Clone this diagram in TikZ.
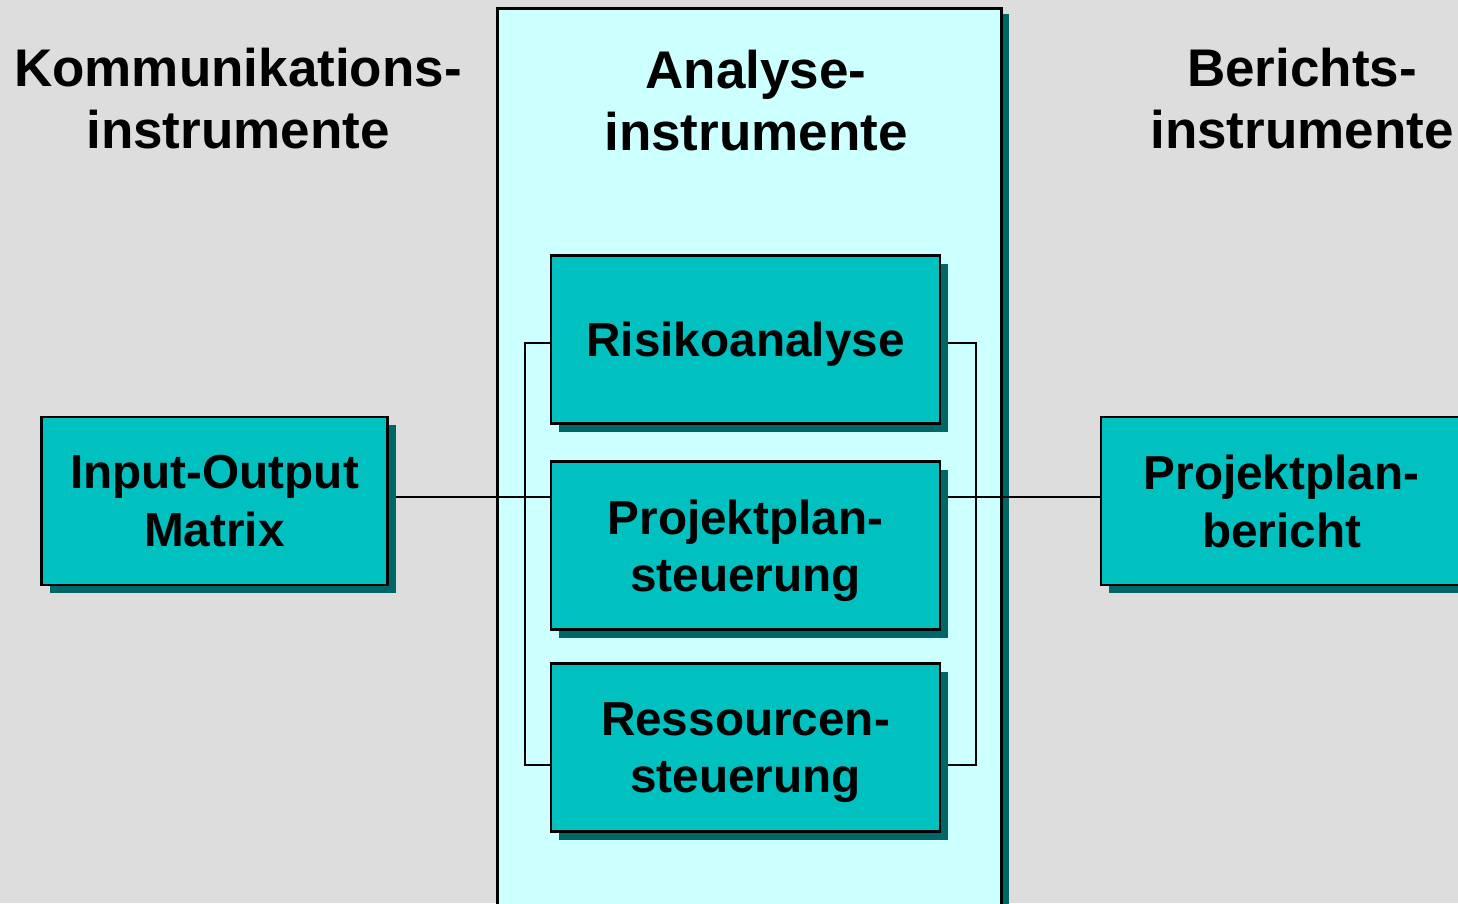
\documentclass[tikz,border=0pt]{standalone}
\usepackage{fontspec}
\setmainfont{Liberation Sans}
\usetikzlibrary{shadows}
\definecolor{bg}{HTML}{DDDDDD}
\definecolor{panelfill}{HTML}{CCFFFF}
\definecolor{boxfill}{HTML}{00C0C0}
\definecolor{darkteal}{HTML}{006666}
\pgfdeclarelayer{base}
\pgfdeclarelayer{wires}
\pgfsetlayers{base,wires,main}

\begin{document}
\begin{tikzpicture}[x=1pt,y=-1pt,
  tool/.style={draw=black, line width=2.2pt, fill=boxfill, rectangle, inner sep=0pt,
    minimum height=168pt, text depth=0pt, align=center,
    font=\fontsize{47.7}{57.5}\selectfont\bfseries,
    drop shadow={shadow xshift=8pt, shadow yshift=-8pt, fill=darkteal, opacity=1}},
  heading/.style={inner sep=0pt, text depth=0pt, align=center,
    font=\fontsize{53}{62}\selectfont\bfseries},
  link/.style={draw=black, line width=1.8pt}]
\clip (0,0) rectangle (1458,903);
\useasboundingbox (0,0) rectangle (1458,903);

\begin{pgfonlayer}{base}
  \fill[bg] (0,0) rectangle (1458,903);
  % central column for the analysis tools
  \fill[darkteal] (504,14) rectangle (1008.5,930);
  \draw[line width=2.8pt, fill=panelfill] (497.5,8.3) rectangle (1001.5,930);
\end{pgfonlayer}

% column headings
\node[heading] (hk) at (238,98.5) {Kommunikations-\\instrumente};
\node[heading] (ha) at (756,100) {Analyse-\\instrumente};
\node[heading] (hb) at (1302,98) {Berichts-\\instrumente};

% tool boxes
\node[tool, minimum width=346pt] (io) at (214.5,501) {Input-Output\\Matrix};
\node[tool, minimum width=389pt] (risk) at (745.5,339.5) {Risikoanalyse};
\node[tool, minimum width=389pt] (plan) at (745.5,545.5) {Projektplan-\\steuerung};
\node[tool, minimum width=389pt] (res) at (745.5,747.5) {Ressourcen-\\steuerung};
\node[tool, minimum width=361pt] (ber) at (1281.5,501) {Projektplan-\\bericht};

% connectors
\coordinate (bus) at (0,497);
\coordinate (brTop) at (0,343);
\coordinate (brBot) at (0,765);
\begin{pgfonlayer}{wires}
  \draw[link] (io.east |- bus) -- (ber.west |- bus);
  \draw[link] (risk.west |- brTop) -- ++(-25,0) |- (res.west |- brBot);
  \draw[link] (risk.east |- brTop) -- ++(35,0) |- (res.east |- brBot);
\end{pgfonlayer}
\end{tikzpicture}
\end{document}
